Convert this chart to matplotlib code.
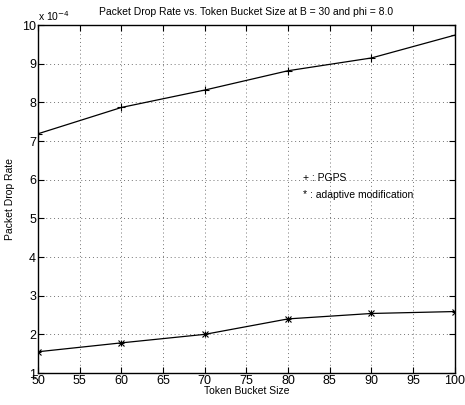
import matplotlib
matplotlib.use('Agg')
import matplotlib.pyplot as plt

plt.rcParams['font.family'] = ['Liberation Sans', 'DejaVu Sans']

bucket = [50, 60, 70, 80, 90, 100]
pgps = [7.19, 7.87, 8.32, 8.82, 9.15, 9.74]
adaptive = [1.55, 1.78, 2.00, 2.40, 2.54, 2.59]

fig = plt.figure(figsize=(4.65, 4.05), dpi=100)
ax = fig.add_axes([0.082, 0.079, 0.896, 0.859])

ax.plot(bucket, pgps, '-', color='k', lw=0.9, marker='+', ms=6, mew=0.8)
ax.plot(bucket, adaptive, '-', color='k', lw=0.9, marker='x', ms=4, mew=0.8)
ax.plot(bucket, adaptive, linestyle='none', color='k', marker='+', ms=5, mew=0.8)

ax.set_xlim(50, 100)
ax.set_ylim(1, 10)
ax.set_xticks(range(50, 101, 5))
ax.set_yticks(range(1, 11))
ax.grid(True, linestyle=(0, (1, 3)), color='0.45', lw=0.7)
ax.tick_params(direction='in', top=True, right=True, labelsize=9, length=4, width=0.8, pad=1.5)
for s in ax.spines.values():
    s.set_linewidth(1.0)

ax.set_xlabel('Token Bucket Size', fontsize=7.5, labelpad=-1)
ax.set_ylabel('Packet Drop Rate', fontsize=7.5, labelpad=5)
ax.set_title('Packet Drop Rate vs. Token Bucket Size at B = 30 and phi = 8.0', fontsize=7.5, pad=7)
ax.text(0.0, 1.005, r'x 10$^{-4}$', transform=ax.transAxes, fontsize=7.5, va='bottom', ha='left')

ax.text(81.8, 6.05, '+ : PGPS', fontsize=7.5, va='center')
ax.text(81.8, 5.6, '* : adaptive modification', fontsize=7.5, va='center')

fig.savefig('out.png', dpi=100)
